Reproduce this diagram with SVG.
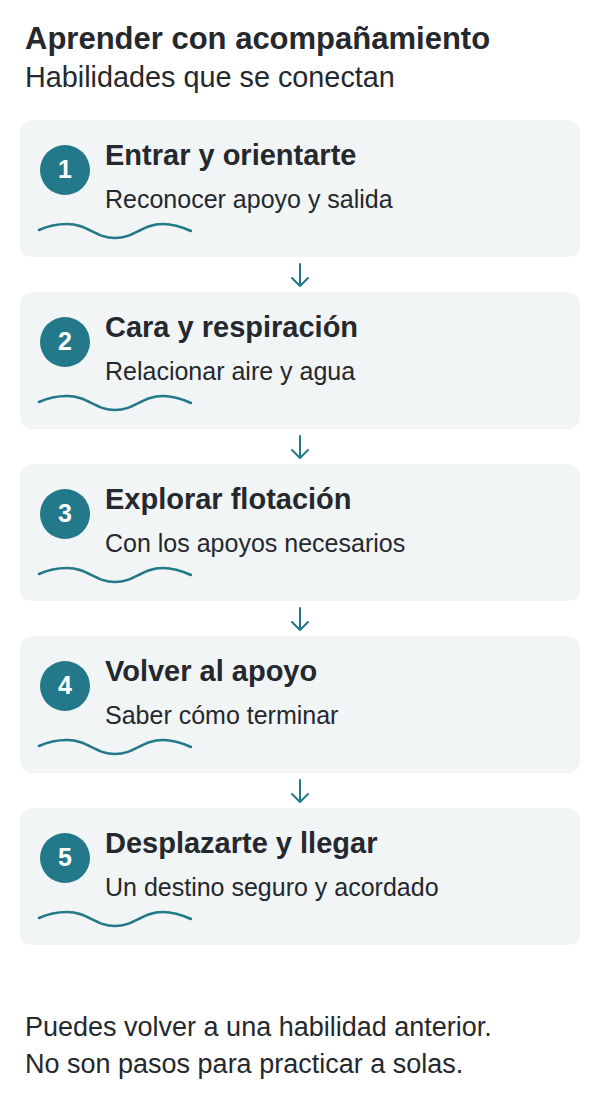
<svg xmlns="http://www.w3.org/2000/svg" width="600" height="1110" viewBox="0 0 600 1110">
<style>
.t{font-family:"Liberation Sans",Arial,sans-serif;fill:#25282d}
.h{font-size:31px;font-weight:bold}
.s{font-size:28.8px}
.ct{font-size:29px;font-weight:bold}
.cs{font-size:25px}
.f{font-size:27px}
.card{fill:#f1f5f6}
.num{fill:#23788a}
.nt{font-family:"Liberation Sans",Arial,sans-serif;font-size:25px;font-weight:bold;fill:#ffffff}
.wave{fill:none;stroke:#23788a;stroke-width:2.5;stroke-linecap:round}
.arr{fill:none;stroke:#23788a;stroke-width:2;stroke-linecap:round;stroke-linejoin:round}
</style>
<defs>
<path id="w" d="M39 230 C50 225 58 224 67 224 C88 224 95 238 115 238 C135 238 142 224 163 224 C172 224 182 227 191 231"/>
</defs>
<rect width="600" height="1110" fill="#ffffff"/>
<text class="t h" x="25" y="49">Aprender con acompañamiento</text>
<text class="t s" x="25" y="87">Habilidades que se conectan</text>

<g id="connectors">
<path class="arr" d="M300 264 V286 M292 278 L300 286 L308 278"/>
<path class="arr" d="M300 436 V458 M292 450 L300 458 L308 450"/>
<path class="arr" d="M300 608 V630 M292 622 L300 630 L308 622"/>
<path class="arr" d="M300 780 V802 M292 794 L300 802 L308 794"/>
</g>

<g id="node1">
<rect class="card" x="20" y="120" width="560" height="137" rx="12"/>
<circle class="num" cx="65" cy="170" r="25"/>
<text class="nt" x="65" y="178" text-anchor="middle">1</text>
<text class="t ct" x="105" y="165">Entrar y orientarte</text>
<text class="t cs" x="105" y="208">Reconocer apoyo y salida</text>
<use href="#w" class="wave"/>
</g>
<g id="node2">
<rect class="card" x="20" y="292" width="560" height="137" rx="12"/>
<circle class="num" cx="65" cy="342" r="25"/>
<text class="nt" x="65" y="350" text-anchor="middle">2</text>
<text class="t ct" x="105" y="337">Cara y respiración</text>
<text class="t cs" x="105" y="380">Relacionar aire y agua</text>
<use href="#w" class="wave" y="172"/>
</g>
<g id="node3">
<rect class="card" x="20" y="464" width="560" height="137" rx="12"/>
<circle class="num" cx="65" cy="514" r="25"/>
<text class="nt" x="65" y="522" text-anchor="middle">3</text>
<text class="t ct" x="105" y="509">Explorar flotación</text>
<text class="t cs" x="105" y="552">Con los apoyos necesarios</text>
<use href="#w" class="wave" y="344"/>
</g>
<g id="node4">
<rect class="card" x="20" y="636" width="560" height="137" rx="12"/>
<circle class="num" cx="65" cy="686" r="25"/>
<text class="nt" x="65" y="694" text-anchor="middle">4</text>
<text class="t ct" x="105" y="681">Volver al apoyo</text>
<text class="t cs" x="105" y="724">Saber cómo terminar</text>
<use href="#w" class="wave" y="516"/>
</g>
<g id="node5">
<rect class="card" x="20" y="808" width="560" height="137" rx="12"/>
<circle class="num" cx="65" cy="858" r="25"/>
<text class="nt" x="65" y="866" text-anchor="middle">5</text>
<text class="t ct" x="105" y="853">Desplazarte y llegar</text>
<text class="t cs" x="105" y="896">Un destino seguro y acordado</text>
<use href="#w" class="wave" y="688"/>
</g>

<text class="t f" x="25" y="1036">Puedes volver a una habilidad anterior.</text>
<text class="t f" x="25" y="1073">No son pasos para practicar a solas.</text>
</svg>
